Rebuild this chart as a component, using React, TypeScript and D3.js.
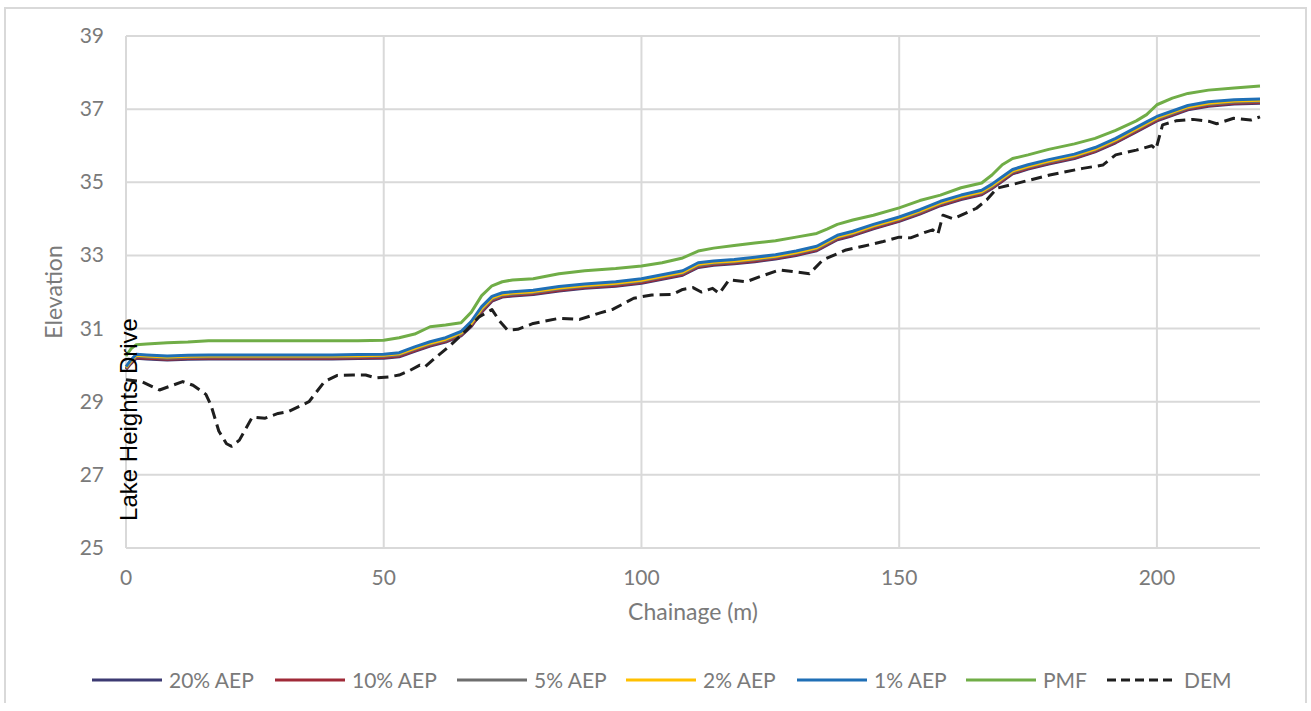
import React from 'react';
import * as d3 from 'd3';

const width = 1311;
const height = 711;
const margin = { top: 36, right: 51, bottom: 163, left: 126 };

// chainage (m) of the flood level profiles
const chain = [0, 1, 2, 4, 8, 12, 16, 20, 25, 30, 35, 40, 45, 50, 53, 56, 59, 62, 65, 67, 69, 71, 73, 75, 79, 84, 89, 95, 100, 104, 108, 111, 114, 118, 122, 126, 130, 134, 136, 138, 141, 145, 150, 154, 158, 162, 166, 168, 170, 172, 175, 179, 184, 188, 192, 196, 198, 200, 203, 206, 210, 215, 220];

const aep20 = [29.89, 30.05, 30.19, 30.17, 30.14, 30.16, 30.17, 30.17, 30.17, 30.17, 30.17, 30.17, 30.18, 30.19, 30.23, 30.38, 30.52, 30.63, 30.8, 31.06, 31.45, 31.75, 31.86, 31.89, 31.93, 32.03, 32.1, 32.16, 32.24, 32.35, 32.46, 32.67, 32.73, 32.77, 32.83, 32.9, 33.0, 33.13, 33.28, 33.43, 33.54, 33.73, 33.93, 34.13, 34.36, 34.53, 34.66, 34.83, 35.03, 35.23, 35.36, 35.5, 35.65, 35.83, 36.08, 36.38, 36.53, 36.68, 36.83, 36.98, 37.08, 37.14, 37.16];
const aep10 = [29.9, 30.07, 30.21, 30.19, 30.16, 30.18, 30.19, 30.19, 30.19, 30.19, 30.19, 30.19, 30.2, 30.21, 30.25, 30.4, 30.54, 30.65, 30.82, 31.08, 31.47, 31.77, 31.88, 31.91, 31.95, 32.05, 32.12, 32.18, 32.26, 32.37, 32.48, 32.69, 32.75, 32.79, 32.85, 32.92, 33.02, 33.15, 33.3, 33.45, 33.56, 33.75, 33.95, 34.15, 34.38, 34.55, 34.68, 34.85, 35.05, 35.25, 35.38, 35.52, 35.67, 35.85, 36.1, 36.4, 36.55, 36.7, 36.85, 37.0, 37.1, 37.16, 37.18];
const aep5 = [29.92, 30.1, 30.24, 30.22, 30.19, 30.21, 30.22, 30.22, 30.22, 30.22, 30.22, 30.22, 30.23, 30.24, 30.28, 30.43, 30.57, 30.68, 30.85, 31.12, 31.51, 31.8, 31.91, 31.94, 31.98, 32.08, 32.15, 32.21, 32.29, 32.4, 32.51, 32.72, 32.78, 32.82, 32.88, 32.95, 33.05, 33.18, 33.33, 33.48, 33.59, 33.78, 33.98, 34.18, 34.41, 34.58, 34.71, 34.88, 35.08, 35.28, 35.41, 35.55, 35.7, 35.88, 36.13, 36.43, 36.58, 36.73, 36.88, 37.03, 37.13, 37.19, 37.21];
const aep2 = [29.94, 30.12, 30.27, 30.25, 30.22, 30.24, 30.25, 30.25, 30.25, 30.25, 30.25, 30.25, 30.26, 30.27, 30.31, 30.46, 30.6, 30.71, 30.88, 31.15, 31.55, 31.84, 31.94, 31.97, 32.01, 32.11, 32.18, 32.24, 32.32, 32.43, 32.54, 32.76, 32.81, 32.85, 32.91, 32.98, 33.08, 33.21, 33.36, 33.51, 33.62, 33.81, 34.01, 34.21, 34.44, 34.61, 34.74, 34.91, 35.11, 35.31, 35.44, 35.58, 35.73, 35.91, 36.16, 36.46, 36.61, 36.76, 36.91, 37.06, 37.16, 37.22, 37.24];
const aep1 = [29.96, 30.15, 30.3, 30.28, 30.25, 30.27, 30.28, 30.28, 30.28, 30.28, 30.28, 30.28, 30.29, 30.3, 30.34, 30.5, 30.64, 30.75, 30.92, 31.2, 31.6, 31.88, 31.98, 32.01, 32.05, 32.15, 32.22, 32.28, 32.36, 32.47, 32.58, 32.8, 32.85, 32.89, 32.95, 33.02, 33.12, 33.25, 33.4, 33.55, 33.66, 33.85, 34.05, 34.25, 34.48, 34.65, 34.78, 34.95, 35.15, 35.35, 35.48, 35.62, 35.77, 35.95, 36.2, 36.5, 36.65, 36.8, 36.95, 37.1, 37.2, 37.26, 37.28];
const pmf = [30.25, 30.45, 30.56, 30.58, 30.61, 30.63, 30.67, 30.67, 30.67, 30.67, 30.67, 30.67, 30.67, 30.68, 30.75, 30.85, 31.05, 31.1, 31.16, 31.45, 31.9, 32.17, 32.28, 32.33, 32.36, 32.5, 32.58, 32.64, 32.71, 32.8, 32.93, 33.12, 33.2, 33.27, 33.34, 33.4, 33.5, 33.6, 33.72, 33.85, 33.97, 34.1, 34.3, 34.5, 34.65, 34.85, 34.98, 35.2, 35.48, 35.65, 35.75, 35.9, 36.05, 36.2, 36.42, 36.68, 36.85, 37.12, 37.3, 37.43, 37.52, 37.58, 37.63];

// ground surface
const demChain = [0, 3, 6.5, 11, 13, 15.5, 16.5, 18, 19.5, 20.5, 22, 24.5, 27, 29.5, 31.5, 35.5, 38.5, 41, 44, 46.5, 48.5, 51, 53, 55, 57, 58, 60, 63, 66, 68.5, 71, 72.5, 74, 76, 79, 84, 88, 92, 94.5, 98.5, 102, 106, 108, 110, 111.6, 113.8, 115.1, 117, 120.3, 123, 126.7, 129.3, 132.6, 135.2, 139.7, 143, 146.9, 150, 152.2, 155, 156.5, 157.5, 158.5, 160.5, 165, 167, 169, 172.8, 179.2, 185.6, 189.5, 192, 196, 199, 199.8, 201.1, 203.7, 207, 210.3, 211.6, 214.9, 218.2, 220];
const dem = [29.6, 29.55, 29.32, 29.55, 29.45, 29.2, 28.9, 28.2, 27.85, 27.78, 27.95, 28.58, 28.55, 28.68, 28.73, 29.0, 29.55, 29.72, 29.73, 29.73, 29.65, 29.68, 29.73, 29.85, 30.0, 29.95, 30.2, 30.55, 30.95, 31.32, 31.52, 31.2, 30.96, 30.98, 31.14, 31.28, 31.25, 31.43, 31.53, 31.83, 31.92, 31.93, 32.07, 32.12, 32.0, 32.1, 31.96, 32.33, 32.28, 32.42, 32.6, 32.56, 32.5, 32.88, 33.15, 33.25, 33.38, 33.5, 33.48, 33.63, 33.7, 33.58, 34.1, 34.0, 34.29, 34.52, 34.84, 34.97, 35.2, 35.38, 35.47, 35.75, 35.88, 36.0, 35.9, 36.57, 36.68, 36.72, 36.66, 36.6, 36.75, 36.7, 36.79];

const xTicks = [0, 50, 100, 150, 200];
const yTicks = [25, 27, 29, 31, 33, 35, 37, 39];

const series = [
  { name: '20% AEP', values: aep20, color: '#3c3a72' },
  { name: '10% AEP', values: aep10, color: '#a02a38' },
  { name: '5% AEP', values: aep5, color: '#6e6e6e' },
  { name: '2% AEP', values: aep2, color: '#ffc000' },
  { name: '1% AEP', values: aep1, color: '#1f6fb6' },
  { name: 'PMF', values: pmf, color: '#70ad47' },
];

// legend item start positions
const legendX = [92, 275, 457, 626, 797, 966, 1107];

const grid = '#d9d9d9';
const textColor = '#7a7a7a';
const font = 'Lato, "Open Sans", sans-serif';

export default function App() {
  const xScale = d3.scaleLinear().domain([0, 220]).range([margin.left, width - margin.right]);
  const yScale = d3.scaleLinear().domain([25, 39]).range([height - margin.bottom, margin.top]);

  const line = d3.line<[number, number]>()
    .x(d => xScale(d[0]))
    .y(d => yScale(d[1]));

  const legendItems = [
    ...series.map(s => ({ name: s.name, color: s.color, dash: undefined as string | undefined })),
    { name: 'DEM', color: '#1e1e1e', dash: '9 5' },
  ];

  const y0 = yScale(25);
  const y1 = yScale(39);

  return (
    <svg width={width} height={height} style={{ position: 'absolute', left: 0, top: 0, background: '#fff' }}>
      <rect x={0} y={0} width={width} height={height} fill="#fff" />
      <path d={`M5,703V8H1306V703`} fill="none" stroke={grid} strokeWidth={2} />

      {/* gridlines */}
      <g>
        {yTicks.map(t => (
          <line key={`h${t}`} x1={xScale(0)} x2={xScale(220)} y1={yScale(t)} y2={yScale(t)} stroke={grid} strokeWidth={2} />
        ))}
        {xTicks.map(t => (
          <line key={`v${t}`} x1={xScale(t)} x2={xScale(t)} y1={y1} y2={y0} stroke={grid} strokeWidth={2} />
        ))}
      </g>

      {/* tick labels */}
      <g fontFamily={font} fontSize={21} fill={textColor}>
        {yTicks.map(t => (
          <text key={`yl${t}`} x={104} y={yScale(t) + 7} textAnchor="end">{t}</text>
        ))}
        {xTicks.map(t => (
          <text key={`xl${t}`} x={xScale(t)} y={585} textAnchor="middle">{t}</text>
        ))}
      </g>

      <text x={(xScale(0) + xScale(220)) / 2} y={620} textAnchor="middle" fontFamily={font} fontSize={23} fill={textColor}>Chainage (m)</text>
      <text transform={`translate(62, ${(y0 + y1) / 2}) rotate(-90)`} textAnchor="middle" fontFamily={font} fontSize={23} fill={textColor}>Elevation</text>

      {/* series */}
      <g fill="none" strokeLinejoin="round">
        {series.map(s => (
          <path key={s.name} d={line(chain.map((c, i) => [c, s.values[i]]) as [number, number][]) || ''} stroke={s.color} strokeWidth={3} />
        ))}
        <path d={line(demChain.map((c, i) => [c, dem[i]]) as [number, number][]) || ''} stroke="#1e1e1e" strokeWidth={3} strokeDasharray="11 6" />
      </g>

      <text transform={`translate(137, 419.5) rotate(-90)`} textAnchor="middle" fontFamily='"Liberation Sans", Arial, sans-serif' fontSize={24} fill="#000">Lake Heights Drive</text>

      {/* legend */}
      <g fontFamily={font} fontSize={21} fill={textColor}>
        {legendItems.map((d, i) => (
          <g key={d.name} transform={`translate(${legendX[i]}, 680)`}>
            <line x1={0} x2={70} y1={0} y2={0} stroke={d.color} strokeWidth={3} strokeDasharray={d.dash} />
            <text x={77} y={7.5}>{d.name}</text>
          </g>
        ))}
      </g>
    </svg>
  );
}
